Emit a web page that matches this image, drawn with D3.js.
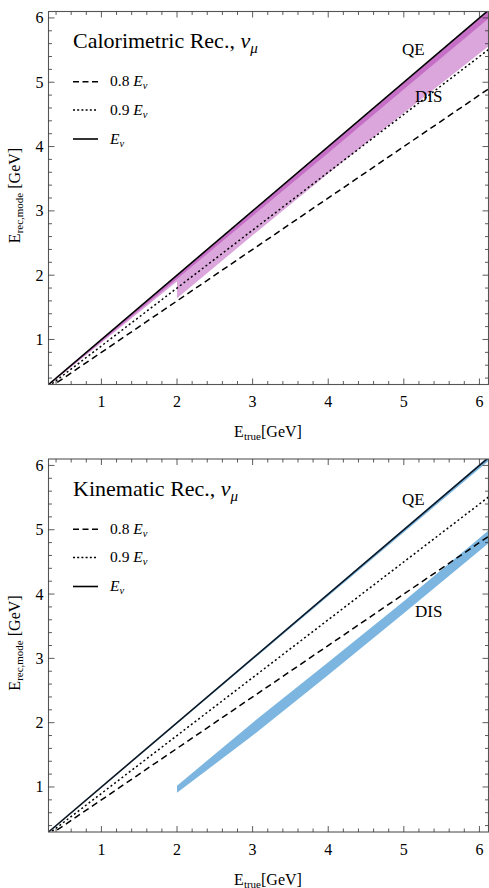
<!DOCTYPE html>
<html><head><meta charset="utf-8">
<script src="https://cdn.jsdelivr.net/npm/d3@7"></script>
<style>body{margin:0;background:#fff} svg{display:block}</style>
</head><body><svg id="c" width="489" height="888"></svg>
<script>
// ---- data ----
const xDomain = [0.3, 6.12];
const yDomain = [0.3, 6.1];
const majorTicks = [1, 2, 3, 4, 5, 6];
const refFactors = [0.8, 0.9, 1.0];
const refLegend = ["0.8 ", "0.9 ", ""];
const lineX = [0.3, 6.12];

const calQEx = [0.3, 1, 2, 3, 4, 5, 6.12];
const calQEdarkHi = [0.3, 1.0, 2.0, 3.0, 4.0, 5.0, 6.12];
const calQEdarkLo = [0.29, 0.97, 1.94, 2.92, 3.9, 4.89, 5.99];
const calQElightLo = [0.285, 0.95, 1.9, 2.86, 3.82, 4.78, 5.86];
const calDISx = [2, 3, 4, 5, 6.12];
const calDISlo = [1.64, 2.62, 3.58, 4.52, 5.56];
const calDIShi = [1.93, 2.9, 3.88, 4.86, 5.98];

const kinQEx = [0.3, 6.12];
const kinQElo = [0.297, 6.07];
const kinQEhi = [0.302, 6.14];
const kinDISx = [2, 3, 4, 5, 6.12];
const kinDISlo = [0.91, 1.80, 2.74, 3.70, 4.79];
const kinDIShi = [1.02, 2.0, 2.94, 3.89, 4.99];

const titles = ["Calorimetric Rec., ", "Kinematic Rec., "];

// ---- layout ----
const L = 48.5, R = 488.5, PH = 373;
const tops = [11.5, 459];
const FONT = "'Liberation Serif','Times New Roman',serif";

const svg = d3.select("#c");
const x = d3.scaleLinear().domain(xDomain).range([L, R]);

const minor = d3.range(2, 31).map(i => +(i * 0.2).toFixed(2))
  .filter(v => Math.abs(v - Math.round(v)) > 1e-6);

function band(g, y, xs, lo, hi, color) {
  const data = xs.map((d, i) => ({x: d, lo: lo[i], hi: hi[i]}));
  g.append("path").datum(data)
    .attr("d", d3.area().x(d => x(d.x)).y0(d => y(d.lo)).y1(d => y(d.hi)))
    .attr("fill", color).attr("stroke", "none");
}

function drawPanel(idx) {
  const top = tops[idx], bottom = top + PH;
  const y = d3.scaleLinear().domain(yDomain).range([bottom, top]);
  const g = svg.append("g");
  const clipId = "clip" + idx;
  g.append("clipPath").attr("id", clipId).append("rect")
    .attr("x", L).attr("y", top).attr("width", R - L).attr("height", PH);
  const plot = g.append("g").attr("clip-path", `url(#${clipId})`);

  if (idx === 0) {
    band(plot, y, calQEx, calQElightLo, calQEdarkHi, "#dba6db");
    band(plot, y, calDISx, calDISlo, calDIShi, "#dba6db");
    band(plot, y, calQEx, calQEdarkLo, calQEdarkHi, "#c66fc6");
  } else {
    band(plot, y, kinDISx, kinDISlo, kinDIShi, "#7cb6e0");
    band(plot, y, kinQEx, kinQElo, kinQEhi, "#7cb6e0");
  }

  const styles = [
    {dash: "6.5,4", w: 1.5},
    {dash: "2,2.6", w: 1.5},
    {dash: null, w: 1.6}
  ];
  refFactors.forEach((f, i) => {
    const pts = lineX.map(v => [v, f * v]);
    const p = plot.append("path").datum(pts)
      .attr("d", d3.line().x(d => x(d[0])).y(d => y(d[1])))
      .attr("fill", "none")
      .attr("stroke", idx === 1 && i === 2 ? "#0b1622" : "#000")
      .attr("stroke-width", styles[i].w);
    if (styles[i].dash) p.attr("stroke-dasharray", styles[i].dash);
  });

  // frame
  g.append("rect").attr("x", L).attr("y", top).attr("width", R - L).attr("height", PH)
    .attr("fill", "none").attr("stroke", "#555").attr("stroke-width", 1.1);

  // ticks (inward, all sides)
  const tk = g.append("g").attr("stroke", "#333").attr("stroke-width", 0.8);
  const addTicks = (vals, len) => {
    vals.forEach(v => {
      if (v >= xDomain[0] && v <= xDomain[1]) {
        tk.append("line").attr("x1", x(v)).attr("x2", x(v)).attr("y1", bottom).attr("y2", bottom - len);
        tk.append("line").attr("x1", x(v)).attr("x2", x(v)).attr("y1", top).attr("y2", top + len);
      }
      if (v >= yDomain[0] && v <= yDomain[1]) {
        tk.append("line").attr("y1", y(v)).attr("y2", y(v)).attr("x1", L).attr("x2", L + len);
        tk.append("line").attr("y1", y(v)).attr("y2", y(v)).attr("x1", R).attr("x2", R - len);
      }
    });
  };
  addTicks(majorTicks, 6);
  addTicks(minor, 3.5);

  // tick labels
  majorTicks.forEach(v => {
    g.append("text").attr("x", x(v)).attr("y", bottom + 22.5)
      .attr("text-anchor", "middle").attr("font-family", FONT).attr("font-size", 16).text(v);
    g.append("text").attr("x", 43.5).attr("y", y(v) + 5.5)
      .attr("text-anchor", "end").attr("font-family", FONT).attr("font-size", 16).text(v);
  });

  // axis labels
  const xl = g.append("text").attr("x", 268).attr("y", bottom + 52.5)
    .attr("text-anchor", "middle").attr("font-family", FONT).attr("font-size", 16);
  xl.append("tspan").text("E");
  xl.append("tspan").attr("font-size", 11).attr("dy", 3).text("true");
  xl.append("tspan").attr("dy", -3).text("[GeV]");

  const yl = g.append("text")
    .attr("transform", `translate(20,${top + 184}) rotate(-90)`)
    .attr("text-anchor", "middle").attr("font-family", FONT).attr("font-size", 16);
  yl.append("tspan").text("E");
  yl.append("tspan").attr("font-size", 11).attr("dy", 3).text("rec,mode");
  yl.append("tspan").attr("dy", -3).text(" [GeV]");

  // title
  const t = g.append("text").attr("x", 73).attr("y", top + 36.5)
    .attr("font-family", FONT).attr("font-size", 22);
  t.append("tspan").text(titles[idx]);
  t.append("tspan").attr("font-style", "italic").text("ν");
  t.append("tspan").attr("font-style", "italic").attr("font-size", 15).attr("dy", 5).text("μ");

  // legend
  const rows = [70.2, 98.5, 127.5];
  refFactors.forEach((f, i) => {
    const ly = top + rows[i];
    const ln = g.append("line").attr("x1", 73).attr("x2", 98).attr("y1", ly).attr("y2", ly)
      .attr("stroke", "#000").attr("stroke-width", styles[i].w);
    if (styles[i].dash) ln.attr("stroke-dasharray", i === 0 ? "6,3.5" : "2,2.2");
    const tx = g.append("text").attr("x", 110).attr("y", ly + 4.5)
      .attr("font-family", FONT).attr("font-size", 15.5);
    tx.append("tspan").text(refLegend[i]);
    tx.append("tspan").attr("font-style", "italic").text("E");
    tx.append("tspan").attr("font-style", "italic").attr("font-size", 10.5).attr("dy", 3).text("ν");
  });

  // band labels
  const qeY = idx === 0 ? 55 : 505, disY = idx === 0 ? 102 : 617;
  g.append("text").attr("x", 402).attr("y", qeY).attr("font-family", FONT).attr("font-size", 17).text("QE");
  g.append("text").attr("x", 415).attr("y", disY).attr("font-family", FONT).attr("font-size", 17).text("DIS");
}

drawPanel(0);
drawPanel(1);
</script></body></html>
